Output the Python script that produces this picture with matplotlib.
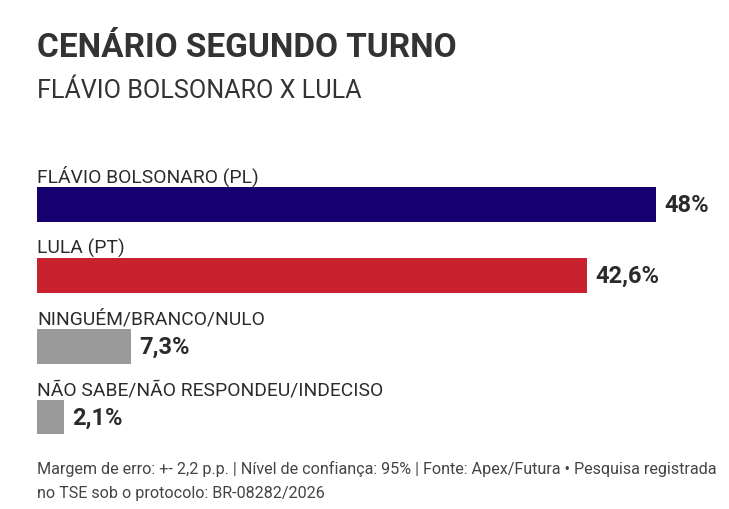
import matplotlib
matplotlib.use("Agg")
import matplotlib.pyplot as plt

plt.rcParams['font.family'] = ['Roboto', 'DejaVu Sans']

categories = ["FLÁVIO BOLSONARO (PL)", "LULA (PT)", "NINGUÉM/BRANCO/NULO",
              "NÃO SABE/NÃO RESPONDEU/INDECISO"]
values = [48.0, 42.6, 7.3, 2.1]
value_labels = ["48%", "42,6%", "7,3%", "2,1%"]
colors = ["#16006f", "#c9212d", "#9a9a9a", "#9a9a9a"]

title = "CENÁRIO SEGUNDO TURNO"
subtitle = "FLÁVIO BOLSONARO X LULA"
footer_lines = ["Margem de erro: +- 2,2 p.p. | Nível de confiança: 95% | Fonte: Apex/Futura • Pesquisa registrada",
                "no TSE sob o protocolo: BR-08282/2026"]

W, H = 729, 509
fig = plt.figure(figsize=(W / 100, H / 100), dpi=100)
fig.patch.set_facecolor("white")

px_per_unit = 12.9
left_px = 37
ax = fig.add_axes([left_px / W, 1 - 452.5 / H, (W - left_px) / W, (452.5 - 169) / H])
ax.set_xlim(0, (W - left_px) / px_per_unit)
ax.set_ylim(3.5, -0.5)
ax.axis("off")

bh = 0.49
ypos = list(range(len(categories)))
ax.barh(ypos, values, height=bh, color=colors, left=0)
for i, (cat, v, lab) in enumerate(zip(categories, values, value_labels)):
    ax.text(0, i - bh / 2 - 0.06, cat, ha="left", va="baseline", fontsize=13.9, color="#2b2b2b")
    ax.text(v + 0.65, i + 0.02, lab, ha="left", va="center", fontsize=17,
            fontweight="bold", color="#2b2b2b")

fig.text(left_px / W, 1 - 57 / H, title, ha="left", va="baseline", fontsize=24,
         fontweight="bold", color="#333333")
fig.text(left_px / W, 1 - 98 / H, subtitle, ha="left", va="baseline", fontsize=18.1,
         color="#333333")
for k, line in enumerate(footer_lines):
    fig.text(left_px / W, 1 - (474 + 24 * k) / H, line, ha="left", va="baseline",
             fontsize=11.6, color="#444444")

fig.savefig("out.png", dpi=100, facecolor="white")
